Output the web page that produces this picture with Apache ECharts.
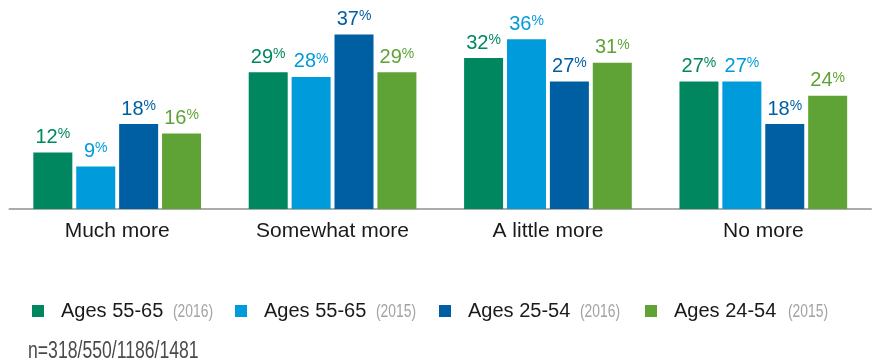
<!DOCTYPE html>
<html>
<head>
<meta charset="utf-8">
<style>
  html, body { margin: 0; padding: 0; background: #fff; }
  #chart { width: 874px; height: 364px; }
</style>
<script src="https://cdn.jsdelivr.net/npm/echarts@6/dist/echarts.min.js"></script>
</head>
<body>
<div id="chart"></div>
<script>
// How much more people expect to save, by age group and survey year (%)
const categories = ['Much more', 'Somewhat more', 'A little more', 'No more'];
const groupNames = ['Ages 55-65', 'Ages 55-65', 'Ages 25-54', 'Ages 24-54'];
const surveyYears = ['(2016)', '(2015)', '(2016)', '(2015)'];
const ages55_65_2016 = [12, 29, 32, 27];
const ages55_65_2015 = [9, 28, 36, 27];
const ages25_54_2016 = [18, 37, 27, 18];
const ages24_54_2015 = [16, 29, 31, 24];
const sampleNote = 'n=318/550/1186/1481';

const seriesValues = [ages55_65_2016, ages55_65_2015, ages25_54_2016, ages24_54_2015];
const seriesNames = groupNames.map((g, i) => g + ' ' + surveyYears[i]);
const colors = ['#00875f', '#009bda', '#005fa3', '#5fa336'];
const legendLeft = [32, 235, 439, 645];
const yearLeft = [173, 376, 580, 788];
const SANS = 'Liberation Sans, Arial, Helvetica, sans-serif';

const chart = echarts.init(document.getElementById('chart'));

const series = seriesNames.map((name, i) => ({
  name: name,
  type: 'bar',
  data: seriesValues[i],
  barWidth: 39,
  barGap: '10%',
  itemStyle: { color: colors[i] },
  label: {
    show: true,
    position: 'top',
    distance: 5,
    formatter: p => '{v|' + p.value + '}{p|%}',
    rich: {
      v: { fontFamily: SANS, fontSize: 20, lineHeight: 20, color: colors[i] },
      p: { fontFamily: SANS, fontSize: 14, lineHeight: 14, color: colors[i], verticalAlign: 'top' }
    }
  }
}));

// one legend per series so each entry sits at its own column
const legends = seriesNames.map((name, i) => ({
  left: legendLeft[i],
  top: 301,
  padding: 0,
  icon: 'rect',
  itemWidth: 12,
  itemHeight: 12,
  selectedMode: false,
  data: [name],
  formatter: () => '{a|' + groupNames[i] + '}',
  textStyle: {
    rich: {
      a: { fontFamily: SANS, fontSize: 20, color: '#1a1a1a', padding: [0, 0, 0, 12] }
    }
  }
}));

// condensed grey year tags next to each legend entry
const yearTags = surveyYears.map((y, i) => ({
  type: 'text',
  x: yearLeft[i],
  y: 312,
  scaleX: 0.77,
  silent: true,
  style: {
    text: y,
    fontFamily: SANS,
    fontSize: 18,
    fill: '#a3a3a3',
    verticalAlign: 'middle'
  }
}));

chart.setOption({
  animation: false,
  backgroundColor: '#fff',
  grid: { left: 9.5, right: 3, top: 0, bottom: 155, containLabel: false },
  xAxis: {
    type: 'category',
    data: categories,
    axisLine: { show: true, lineStyle: { color: '#ababab', width: 2 } },
    axisTick: { show: false },
    axisLabel: {
      margin: 12,
      fontFamily: SANS,
      fontSize: 21,
      color: '#1a1a1a'
    }
  },
  yAxis: {
    type: 'value',
    min: 0,
    max: 44.3,
    show: false,
    splitLine: { show: false }
  },
  legend: legends,
  series: series,
  graphic: yearTags.concat([{
    type: 'text',
    x: 28,
    y: 352,
    scaleX: 0.766,
    silent: true,
    style: {
      text: sampleNote,
      fontFamily: SANS,
      fontSize: 23,
      fill: '#4a4a4a',
      verticalAlign: 'middle'
    }
  }])
});
</script>
</body>
</html>
